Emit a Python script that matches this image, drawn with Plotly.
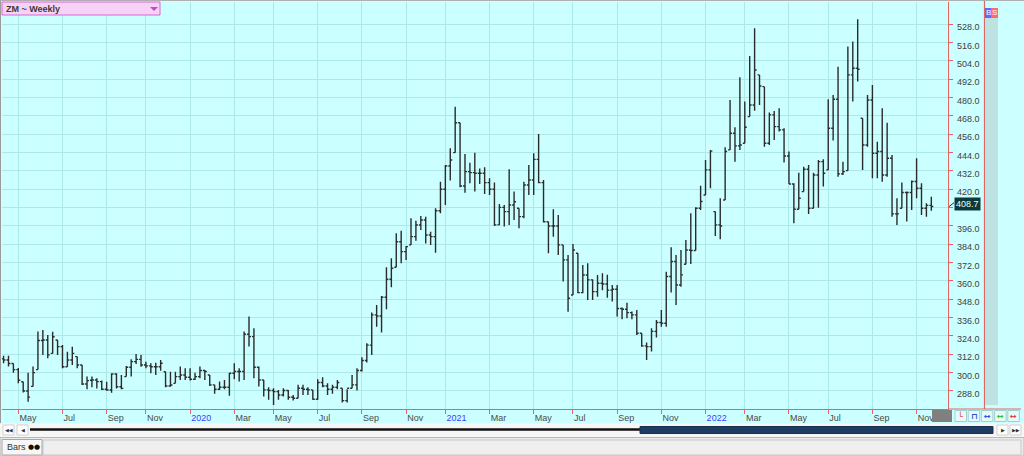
import plotly.graph_objects as go
import pandas as pd

# ---------------- data (weekly OHLC, ZM soybean meal) ----------------
first_bar = "2019-04-12"

highs = [311.1, 311.0, 306.0, 303.0, 294.0, 300.0, 304.0, 327.0, 327.9, 324.6,
         326.8, 321.4, 318.1, 313.7, 317.0, 310.5, 305.0, 297.4, 297.4, 296.3,
         294.8, 294.1, 299.6, 299.6, 298.5, 304.4, 308.7, 312.2, 311.5, 307.2,
         306.1, 306.5, 308.3, 300.6, 300.6, 300.6, 304.0, 302.9, 302.9, 300.0,
         304.0, 301.8, 298.5, 292.0, 294.2, 295.2, 300.0, 306.2, 302.9, 326.9,
         336.7, 329.1, 304.0, 295.2, 290.4, 289.8, 288.7, 289.8, 288.7, 285.4,
         292.0, 292.0, 290.4, 288.7, 295.7, 297.0, 293.1, 292.0, 295.2, 289.8,
         289.1, 298.5, 302.9, 310.1, 319.2, 339.3, 344.3, 350.2, 369.0, 374.8,
         391.2, 392.9, 382.9, 401.0, 399.5, 402.5, 402.1, 392.3, 407.6, 425.0,
         435.9, 446.8, 474.1, 463.6, 443.1, 437.4, 444.0, 433.7, 434.4, 427.2,
         424.4, 410.4, 409.7, 433.1, 418.5, 407.6, 425.0, 435.9, 443.6, 456.2,
         426.1, 398.8, 406.9, 403.2, 383.6, 377.0, 384.2, 378.1, 370.5, 371.6,
         361.1, 363.9, 365.0, 364.0, 357.4, 357.4, 342.6, 345.8, 340.0, 341.0,
         325.8, 319.7, 329.0, 334.5, 341.0, 366.1, 382.0, 377.0, 380.3, 386.9,
         404.3, 408.2, 422.4, 439.2, 445.8, 405.4, 414.1, 447.5, 478.5, 460.6,
         493.3, 477.4, 507.3, 525.4, 494.9, 487.2, 470.2, 471.3, 473.0, 460.0,
         444.7, 424.0, 430.9, 434.8, 435.9, 430.9, 439.2, 439.6, 478.9, 481.8,
         500.3, 438.1, 513.4, 516.7, 531.3, 466.5, 481.8, 488.3, 451.2, 473.0,
         463.6, 442.5, 414.1, 424.4, 418.5, 425.7, 440.3, 423.9, 410.9, 415.2]

lows = [306.1, 304.0, 300.0, 293.0, 287.0, 281.0, 291.0, 302.0, 311.6, 309.4,
        312.6, 311.6, 302.8, 303.9, 305.0, 302.8, 291.9, 289.1, 290.4, 289.7,
        288.6, 288.2, 286.9, 289.7, 289.1, 297.4, 297.4, 305.7, 303.9, 302.8,
        299.6, 298.5, 301.3, 290.4, 290.8, 293.0, 295.2, 295.2, 294.8, 295.2,
        296.3, 295.2, 291.3, 286.1, 288.7, 289.1, 284.8, 295.7, 294.2, 295.2,
        317.1, 296.3, 290.9, 284.3, 282.2, 278.9, 282.2, 284.3, 282.2, 281.7,
        283.2, 285.4, 285.4, 282.2, 282.2, 290.4, 285.4, 286.1, 289.1, 280.4,
        280.4, 289.8, 288.3, 300.7, 306.6, 311.6, 330.1, 326.2, 341.5, 355.9,
        369.0, 371.6, 373.7, 383.6, 386.4, 393.4, 384.6, 383.6, 378.5, 404.3,
        409.7, 425.7, 444.0, 421.3, 417.8, 423.9, 418.5, 423.5, 416.9, 416.3,
        396.0, 396.7, 395.6, 396.7, 399.9, 394.5, 401.0, 416.3, 416.3, 423.9,
        398.2, 378.1, 389.0, 377.0, 359.6, 339.9, 350.8, 351.9, 351.9, 347.6,
        347.6, 349.7, 354.0, 349.0, 346.5, 336.7, 335.0, 335.6, 335.0, 324.7,
        317.0, 308.3, 313.8, 323.0, 330.1, 330.1, 352.4, 344.3, 356.3, 370.9,
        371.1, 379.9, 406.5, 416.3, 420.7, 389.5, 387.3, 413.0, 445.8, 438.1,
        445.8, 450.1, 467.6, 471.5, 475.2, 447.9, 449.0, 452.3, 457.8, 437.5,
        423.5, 397.8, 406.9, 418.5, 403.9, 407.6, 408.0, 421.8, 432.7, 451.9,
        428.3, 429.4, 432.2, 477.4, 490.5, 432.7, 447.9, 427.2, 427.2, 425.0,
        428.3, 402.1, 396.7, 407.6, 398.9, 406.5, 414.1, 403.2, 402.1, 406.0]

closes = [308.3, 306.0, 302.0, 295.0, 288.0, 284.0, 300.0, 321.0, 321.4, 311.6,
          323.5, 317.0, 303.9, 308.3, 312.6, 305.0, 292.6, 294.8, 295.2, 294.1,
          289.1, 288.6, 299.1, 290.8, 289.7, 303.5, 307.2, 308.7, 305.0, 304.4,
          303.9, 303.9, 306.1, 291.3, 291.9, 297.4, 298.5, 297.0, 295.7, 297.4,
          301.4, 300.7, 292.0, 289.1, 290.4, 290.4, 299.6, 300.7, 300.7, 325.1,
          323.6, 303.5, 295.2, 288.7, 288.3, 287.6, 285.4, 288.3, 283.9, 283.2,
          289.8, 289.1, 288.7, 282.6, 293.5, 291.3, 289.1, 290.4, 293.5, 281.7,
          289.8, 292.0, 301.4, 307.9, 318.0, 337.8, 337.1, 349.3, 361.1, 368.3,
          385.7, 379.2, 382.5, 389.0, 396.6, 399.9, 390.1, 389.0, 406.0, 420.0,
          435.3, 439.2, 463.6, 422.2, 431.6, 430.9, 430.5, 430.5, 424.4, 420.0,
          396.7, 408.2, 405.4, 409.7, 411.9, 402.1, 422.8, 426.1, 439.6, 424.4,
          398.8, 396.0, 396.0, 383.6, 373.8, 348.7, 380.3, 352.4, 363.9, 360.7,
          353.0, 358.5, 358.0, 354.0, 354.6, 342.0, 341.5, 339.3, 337.8, 325.8,
          317.5, 317.0, 327.0, 332.8, 332.3, 362.9, 372.7, 357.4, 364.0, 380.3,
          379.9, 407.6, 412.0, 432.7, 445.0, 396.7, 396.0, 444.7, 456.7, 448.4,
          449.0, 460.6, 475.2, 498.1, 487.6, 450.1, 468.7, 461.0, 458.9, 441.8,
          423.5, 406.9, 414.1, 433.1, 407.6, 429.4, 438.1, 430.5, 460.0, 478.9,
          430.1, 431.6, 494.9, 499.2, 498.6, 449.0, 478.5, 443.6, 444.7, 429.4,
          440.3, 403.9, 403.9, 417.9, 417.9, 425.1, 420.7, 407.6, 409.5, 408.7]

opens = [309.0, 308.3, 306.0, 302.0, 294.0, 288.0, 291.0, 302.0, 321.0, 321.4,
         312.6, 321.4, 317.0, 303.9, 308.3, 310.5, 305.0, 292.6, 295.0, 295.2,
         294.1, 289.1, 288.6, 299.1, 290.8, 297.4, 303.5, 307.2, 308.7, 305.0,
         304.4, 303.9, 303.9, 300.6, 291.3, 293.0, 297.4, 298.5, 297.0, 295.7,
         297.4, 301.4, 298.5, 292.0, 289.1, 290.4, 290.4, 299.6, 300.7, 300.7,
         325.1, 323.6, 303.5, 295.2, 288.7, 288.3, 287.6, 285.4, 288.3, 283.9,
         283.2, 289.8, 289.1, 288.7, 282.6, 293.5, 291.3, 289.1, 290.4, 289.8,
         281.7, 289.8, 292.0, 301.4, 307.9, 318.0, 337.8, 337.1, 349.3, 361.1,
         369.0, 385.7, 379.2, 383.6, 389.0, 396.6, 399.9, 390.1, 389.0, 406.0,
         420.0, 435.3, 444.0, 463.6, 422.2, 431.6, 430.9, 430.5, 430.5, 424.4,
         420.0, 396.7, 408.2, 405.4, 409.7, 407.6, 402.1, 422.8, 426.1, 439.6,
         424.4, 398.8, 396.0, 396.0, 383.6, 373.8, 350.8, 378.1, 352.4, 363.9,
         360.7, 353.0, 358.5, 358.0, 354.0, 354.6, 342.0, 341.5, 339.3, 337.8,
         325.8, 317.5, 317.0, 327.0, 332.8, 332.3, 362.9, 372.7, 357.4, 370.9,
         380.3, 379.9, 407.6, 416.3, 432.7, 405.4, 396.7, 413.0, 445.8, 456.7,
         448.4, 450.1, 467.6, 475.2, 494.9, 487.2, 450.1, 468.7, 461.0, 458.9,
         441.8, 423.5, 406.9, 418.5, 433.1, 407.6, 429.4, 438.1, 432.7, 460.0,
         478.9, 430.1, 432.2, 494.9, 499.2, 466.5, 449.0, 478.5, 443.6, 444.7,
         429.4, 440.3, 403.9, 407.6, 417.9, 417.9, 425.1, 420.7, 407.6, 409.5]

tick_months = ["2019-05", "2019-07", "2019-09", "2019-11", "2020-01", "2020-03",
               "2020-05", "2020-07", "2020-09", "2020-11", "2021-01", "2021-03",
               "2021-05", "2021-07", "2021-09", "2021-11", "2022-01", "2022-03",
               "2022-05", "2022-07", "2022-09", "2022-11"]
tick_labels = ["May", "Jul", "Sep", "Nov", "2020", "Mar", "May", "Jul", "Sep", "Nov",
               "2021", "Mar", "May", "Jul", "Sep", "Nov", "2022", "Mar", "May", "Jul",
               "Sep", "Nov"]
price_ticks = [288, 300, 312, 324, 336, 348, 360, 372, 384, 396, 408, 420,
               432, 444, 456, 468, 480, 492, 504, 516, 528]
last_price = 408.7
title_text = "ZM ~ Weekly"

# ---------------- derived axis helpers ----------------
dates = pd.date_range(first_bar, periods=len(closes), freq="7D")
month_str = dates.strftime("%Y-%m")
tick_dates = [dates[month_str == m][0] for m in tick_months]
tick_text = [f'<span style="color:#3c3cff">{t}</span>' if t.isdigit() else t
             for t in tick_labels]
# the last-price box hides the price tick label it sits on
price_text = ["" if abs(v - last_price) < 6 else f"{v:.1f}" for v in price_ticks]

W, H = 1024, 456
ML, MR, MT, MB = 2, 76, 2, 47
PW, PH = W - ML - MR, H - MT - MB


def px(x):
    return (x - ML) / PW


def py(y):
    return (H - MB - y) / PH


def label(text, x, y, size=9, color="#333333", family="Liberation Sans",
          xanchor="center", **kw):
    d = dict(text=text, xref="paper", yref="paper", x=px(x), y=py(y),
             xanchor=xanchor, yanchor="middle", showarrow=False,
             font=dict(size=size, color=color, family=family))
    d.update(kw)
    return d


BG = "#ccffff"
GRID = "#ace8e8"
RED = "#e46464"
BAR = "#2b2b2b"

fig = go.Figure(go.Ohlc(
    x=dates, open=opens, high=highs, low=lows, close=closes,
    increasing=dict(line=dict(color=BAR, width=1.4)),
    decreasing=dict(line=dict(color=BAR, width=1.4)),
    tickwidth=0.4, hoverinfo="skip", showlegend=False))

d0 = dates[0]
x_range = [d0 - pd.Timedelta(hours=54), d0 + pd.Timedelta(hours=int(1346.8 * 24))]

shapes = []
annotations = []


def rect(x0, x1, y0, y1, fill, line_color=None, lw=1, layer="above"):
    return dict(type="rect", xref="paper", yref="paper", x0=px(x0), x1=px(x1),
                y0=py(y1), y1=py(y0), fillcolor=fill,
                line=dict(color=line_color or fill, width=lw if line_color else 0),
                layer=layer)


# extend red bottom axis line and second red vertical line
shapes.append(dict(type="line", xref="paper", yref="paper", x0=px(948), x1=px(1021),
                   y0=py(409), y1=py(409), line=dict(color=RED, width=1.2), layer="above"))
shapes.append(dict(type="line", xref="paper", yref="paper", x0=px(984.5), x1=px(984.5),
                   y0=py(0), y1=py(409), line=dict(color=RED, width=1.2), layer="above"))
# teal column at right
shapes.append(rect(985.5, 998, 18, 405, "#bce2e2", layer="below"))
# frame
shapes.append(dict(type="line", xref="paper", yref="paper", x0=px(0.5), x1=px(0.5),
                   y0=py(0), y1=py(423), line=dict(color="#9a9a9a", width=1), layer="above"))
shapes.append(dict(type="line", xref="paper", yref="paper", x0=px(0), x1=px(1024),
                   y0=py(0.5), y1=py(0.5), line=dict(color="#b0b0b0", width=1), layer="above"))

# title box
shapes.append(rect(2, 160, 2, 15, "#f7d2f7", "#d36ad3"))
shapes.append(dict(type="path", xref="paper", yref="paper",
                   path=f"M {px(150)} {py(7)} L {px(158)} {py(7)} L {px(154)} {py(11)} Z",
                   fillcolor="#cc44cc", line=dict(width=0), layer="above"))
annotations.append(label(f"<b>{title_text}</b>", 4, 8.5, color="#3a3a3a", xanchor="left"))

# B / S boxes
shapes.append(rect(985, 991, 8, 18, "#6666ff"))
shapes.append(rect(991, 998, 8, 18, "#ff6a6a"))
annotations.append(label("B", 988, 13, size=8, color="white"))
annotations.append(label("S", 994.5, 13, size=8, color="white"))

# last price label
shapes.append(dict(type="line", xref="paper", yref="y", x0=px(949), x1=px(954),
                   y0=last_price, y1=last_price + 2.5, line=dict(color="#2b2b2b", width=1),
                   layer="above"))
annotations.append(dict(text=f"{last_price:.1f}", xref="paper", yref="y", x=px(954),
                        y=last_price, yshift=3, xanchor="left", yanchor="middle",
                        showarrow=False, bgcolor="#0c3a3a", borderpad=1,
                        font=dict(size=9, color="#eaffff", family="Liberation Sans")))

# bottom-right grey box + small buttons
shapes.append(rect(932, 952, 410, 422, "#808080"))
btn_cols = ["#e04040", "#3050e0", "#3050e0", "#30c030", "#e04040"]
btn_glyph = ["\u2514", "\u2293", "\u2194", "\u2194", "\u2194"]
for k, (c, g) in enumerate(zip(btn_cols, btn_glyph)):
    x0 = 955 + 13.2 * k
    shapes.append(rect(x0, x0 + 11.5, 410.5, 421.5, "#e6fafa", "#9fd0d0"))
    annotations.append(label(f"<b>{g}</b>", x0 + 5.75, 416, size=8, color=c,
                             family="DejaVu Sans"))

# scroll row
shapes.append(rect(0, 1024, 423.5, 437, "#f6f6f6"))
for x0, g in [(3, "\u25c0\u25c0"), (17, "\u25c0"), (997, "\u25b6"), (1010, "\u25b6\u25b6")]:
    shapes.append(rect(x0, x0 + 11, 425, 435, "#ffffff", "#d0d0d0"))
    annotations.append(label(g, x0 + 5.5, 430, size=5, family="DejaVu Sans"))
shapes.append(dict(type="line", xref="paper", yref="paper", x0=px(30), x1=px(642),
                   y0=py(429.5), y1=py(429.5), line=dict(color="#111111", width=2.5), layer="above"))
shapes.append(rect(640, 993, 426.5, 433.5, "#1e3d64", "#16304f"))

# bottom tab row
shapes.append(rect(0, 1024, 437.5, 456, "#ebebeb", "#b8b8b8"))
shapes.append(rect(43, 1021, 440, 455, "#efefef", "#c8c8c8"))
shapes.append(rect(2, 42, 439.5, 455, "#f7f7f7", "#a8a8a8"))
annotations.append(label("Bars", 5, 447.5, xanchor="left"))
annotations.append(label("\u25cf\u25cf", 26, 447.5, size=7, color="#111111",
                         family="DejaVu Sans", xanchor="left"))

fig.update_layout(
    width=W, height=H,
    margin=dict(l=ML, r=MR, t=MT, b=MB, pad=0),
    paper_bgcolor=BG, plot_bgcolor=BG,
    showlegend=False,
    font=dict(family="Liberation Sans", size=9, color="#404040"),
    xaxis=dict(type="date", range=x_range, rangeslider=dict(visible=False),
               tickvals=tick_dates, ticktext=tick_text,
               ticks="outside", ticklen=4, tickcolor=RED, tickwidth=1,
               ticklabelposition="outside right",
               showline=True, linecolor=RED, linewidth=1.2,
               showgrid=True, gridcolor=GRID, gridwidth=1, zeroline=False,
               tickfont=dict(size=9, color="#4a4a4a")),
    yaxis=dict(side="right", range=[276.2, 542.6],
               tickvals=price_ticks, ticktext=price_text,
               ticks="outside", ticklen=4, tickcolor=RED, tickwidth=1,
               ticklabelshift=3, ticklabelstandoff=2,
               showline=True, linecolor=RED, linewidth=1.2,
               showgrid=True, gridcolor=GRID, gridwidth=1, zeroline=False,
               tickfont=dict(size=9, color="#404040")),
    shapes=shapes, annotations=annotations,
)

fig.write_html("out.html", config={"displayModeBar": False},
               post_script="document.body.style.margin='0';"
                           "document.body.style.overflow='hidden';")
